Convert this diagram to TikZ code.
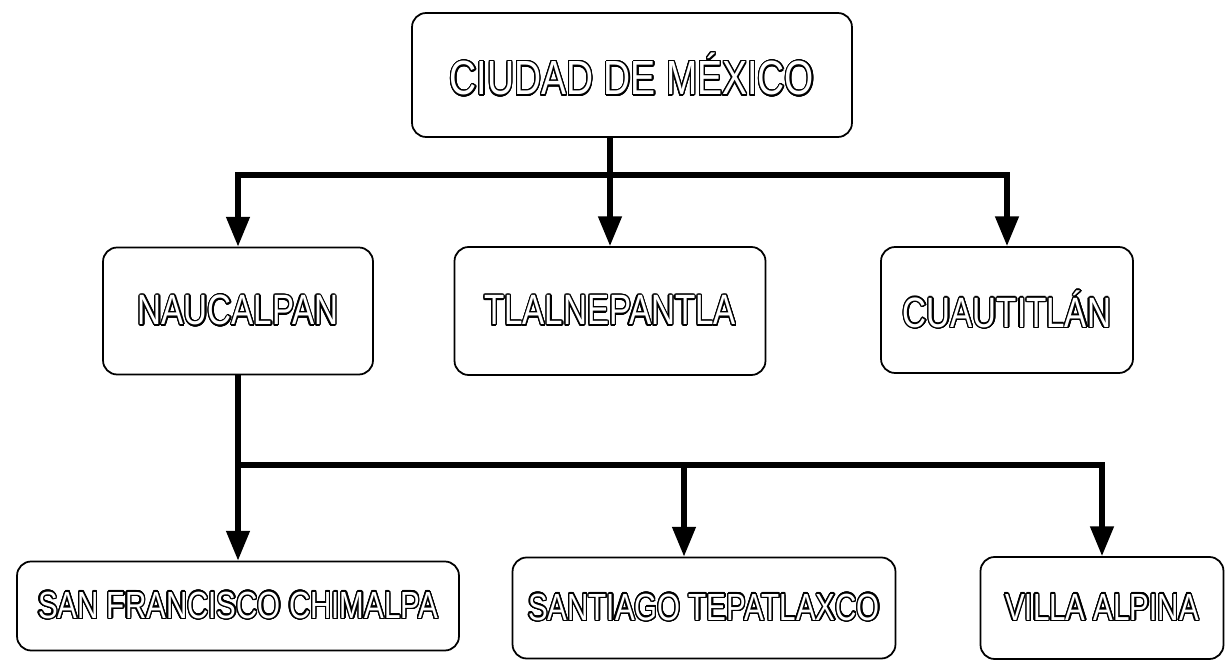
\documentclass[tikz,border=0pt]{standalone}
\usepackage{fontspec}
\setmainfont{Liberation Sans}
\usepackage[copies]{contour}
\usepackage{tikz}
\usetikzlibrary{arrows.meta}
\contourlength{0.8pt}
\contournumber{24}
\definecolor{ink}{HTML}{000000}
\definecolor{paper}{HTML}{FFFFFF}
\newcommand{\hollow}[1]{\scalebox{0.82}[1.05]{\color{paper}\contour{ink}{#1}}}
\tikzset{
  box/.style={draw=ink, line width=1pt, rounded corners=8pt, fill=paper, inner sep=0pt},
  conn/.style={draw=ink, line width=3pt, line join=miter},
  arr/.style={conn, -{Triangle[length=17pt,width=13pt]}},
  big/.style={font=\fontsize{26}{29}\selectfont},
  mid/.style={font=\fontsize{23}{26}\selectfont},
  small/.style={font=\fontsize{20.5}{24}\selectfont},
}

\begin{document}
\begin{tikzpicture}[x=0.02cm, y=-0.02cm]
  \useasboundingbox (0,0) rectangle (1225,661);

  % top
  \node[box,big,minimum width=8.8cm,minimum height=2.48cm] (mexico) at (632,75) {\hollow{CIUDAD DE MÉXICO}};

  % middle row
  \node[box,mid,minimum width=5.4cm,minimum height=2.54cm] (naucalpan) at (238,311) {\hollow{NAUCALPAN}};
  \node[box,mid,minimum width=6.22cm,minimum height=2.56cm] (tlalnepantla) at (610,311) {\hollow{TLALNEPANTLA}};
  \node[box,mid,minimum width=5.04cm,minimum height=2.52cm] (cuautitlan) at (1007,310) {\hollow{CUAUTITLÁN}};

  % bottom row
  \node[box,small,minimum width=8.84cm,minimum height=1.78cm] (sanfrancisco) at (238,606) {\hollow{SAN FRANCISCO CHIMALPA}};
  \node[box,small,minimum width=7.66cm,minimum height=2.02cm] (santiago) at (704,608) {\hollow{SANTIAGO TEPATLAXCO}};
  \node[box,small,minimum width=4.86cm,minimum height=2.04cm] (villa) at (1102,608) {\hollow{VILLA ALPINA}};

  \coordinate (b1) at (610,175);
  \coordinate (b2) at (238,465);
  \coordinate (b2m) at (684,465);

  \draw[conn] (mexico.south -| b1) -- (b1);
  \draw[arr] (b1) -| (naucalpan.north);
  \draw[arr] (b1) -- (tlalnepantla.north);
  \draw[arr] (b1) -| (cuautitlan.north);

  \draw[conn] (naucalpan.south) -- (b2);
  \draw[arr] (b2) -- (sanfrancisco.north);
  \draw[arr] (b2) -- (b2m) -- (b2m |- santiago.north);
  \draw[arr] (b2m) -| (villa.north);
\end{tikzpicture}
\end{document}
